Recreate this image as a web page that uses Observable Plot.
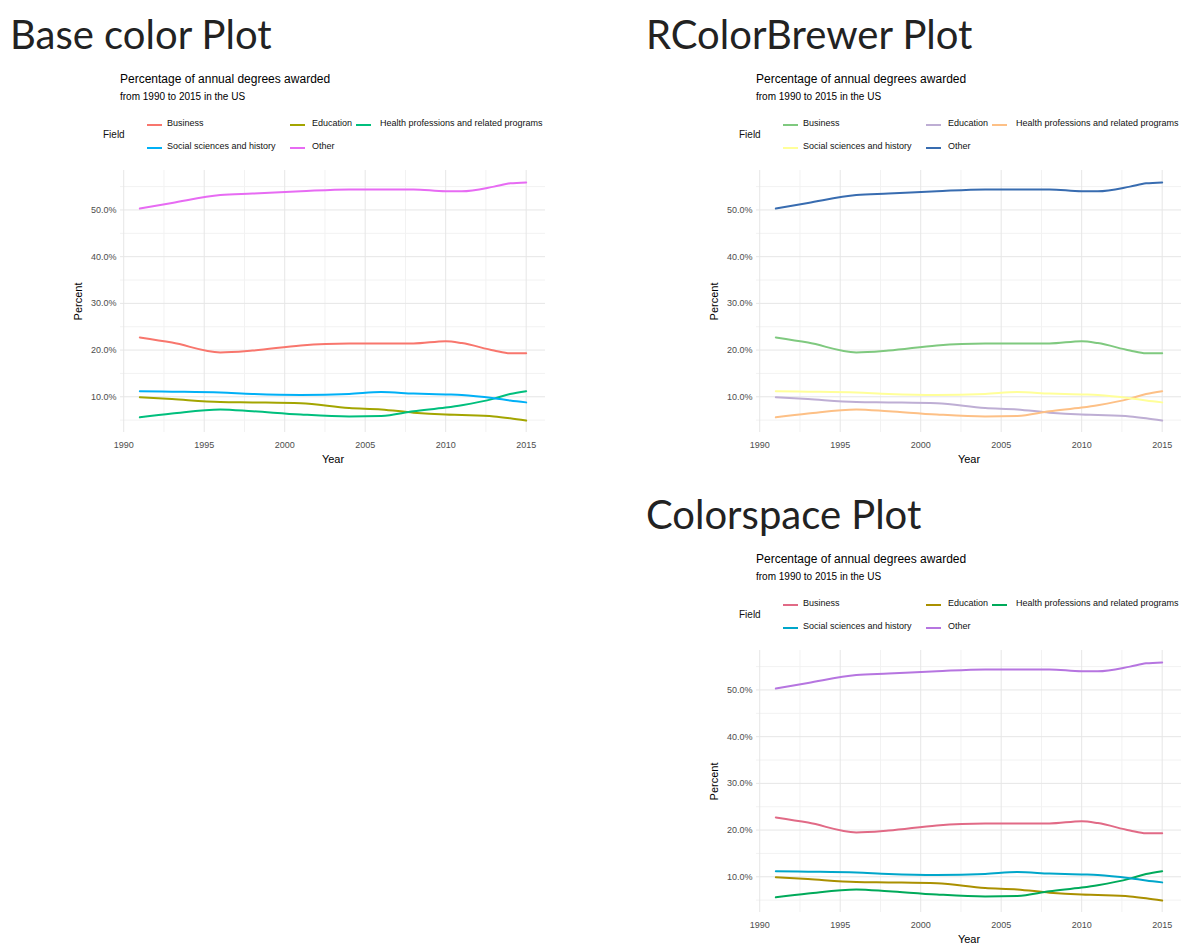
<!DOCTYPE html>
<html><head><meta charset="utf-8">
<script src="https://cdn.jsdelivr.net/npm/d3@7"></script>
<script src="https://cdn.jsdelivr.net/npm/@observablehq/plot@0.6"></script>
<style>
body{margin:0;background:#fff;width:1201px;height:952px;position:relative;overflow:hidden;font-family:"Liberation Sans",Arial,sans-serif}
.panel{position:absolute;width:560px;height:470px}
.head{position:absolute;left:10px;top:14px;font-family:Lato,sans-serif;font-size:40px;color:#222;line-height:1;white-space:nowrap}
.t{position:absolute;left:120px;top:71px;font-size:12px;color:#000}
.s{position:absolute;left:120px;top:91px;font-size:10px;color:#000}
.lg{position:absolute;font-size:9px;color:#111;white-space:nowrap}
.key{position:absolute;width:15px;height:2px}
.chart{position:absolute;left:70px;top:165px}
</style></head><body>
<script>
const fields = ["Business","Education","Health professions and related programs","Social sciences and history","Other"];
const years = [1991,1993,1996,1998,2001,2004,2006,2008,2010,2011,2013,2014,2015];
const business  = [22.7,21.6,19.5,19.9,21.0,21.4,21.4,21.4,21.9,21.5,19.9,19.3,19.3];
const education = [9.9,9.5,8.9,8.8,8.6,7.6,7.3,6.6,6.2,6.1,5.8,5.4,4.9];
const health    = [5.6,6.4,7.3,6.9,6.2,5.8,5.9,6.9,7.7,8.2,9.6,10.6,11.2];
const social    = [11.2,11.1,10.9,10.6,10.4,10.6,11.0,10.7,10.5,10.4,9.7,9.2,8.8];
const other     = [50.3,51.5,53.2,53.5,54.0,54.4,54.4,54.4,54.0,54.0,55.0,55.7,55.9];
const seriesValues = [business,education,health,social,other];
const palettes = [
  ["#F8766D","#A3A500","#00BF7D","#00B0F6","#E76BF3"],
  ["#7FC97F","#BEAED4","#FDC086","#FFFF99","#386CB0"],
  ["#E16A86","#AA9000","#00AA5A","#00A6CA","#B675E0"]
];
const headings = ["Base color Plot","RColorBrewer Plot","Colorspace Plot"];
const offsets = [[0,0],[636,0],[636,480]];

const data = [];
fields.forEach((f,i)=>years.forEach((y,j)=>data.push({field:f,year:y,pct:seriesValues[i][j]})));

// legend layout: [key x, text x, y]
const legendPos = [[147,167,124],[290,312,124],[356,380,124],[147,167,147],[290,312,147]];

headings.forEach((h,k)=>{
  const p = document.createElement("div");
  p.className="panel"; p.style.left=offsets[k][0]+"px"; p.style.top=offsets[k][1]+"px";
  p.innerHTML = `<div class="head">${h}</div><div class="t" style="top:72px">Percentage of annual degrees awarded</div><div class="s">from 1990 to 2015 in the US</div><div class="lg" style="left:103px;top:129px;font-size:10px">Field</div>`;
  fields.forEach((f,n)=>{
    const [kx,tx,ty]=legendPos[n];
    p.innerHTML += `<div class="key" style="left:${kx}px;top:${ty}px;background:${palettes[k][n]}"></div><div class="lg" style="left:${tx}px;top:${ty-6}px">${f}</div>`;
  });
  const chart = Plot.plot({
    width:475, height:302, marginLeft:50, marginRight:0, marginTop:5, marginBottom:35,
    style:{fontFamily:"Liberation Sans, Arial, sans-serif", fontSize:"9px", color:"#4d4d4d", background:"#fff"},
    x:{domain:[1989.8,2016.2], ticks:[1990,1995,2000,2005,2010,2015], tickFormat:d=>String(d), tickSize:0, label:"Year", labelAnchor:"center", labelArrow:"none", labelOffset:30},
    y:{domain:[2.35,58.45], ticks:[10,20,30,40,50], tickFormat:d=>d.toFixed(1)+"%", tickSize:0, tickPadding:4, label:"Percent", labelAnchor:"center", labelArrow:"none", labelOffset:46},
    color:{domain:fields, range:palettes[k]},
    marks:[
      Plot.ruleY([5,15,25,35,45,55],{stroke:"#f2f2f2"}),
      Plot.ruleX([1992.5,1997.5,2002.5,2007.5,2012.5],{stroke:"#f2f2f2"}),
      Plot.ruleY([10,20,30,40,50],{stroke:"#e6e6e6"}),
      Plot.ruleX([1990,1995,2000,2005,2010,2015],{stroke:"#e6e6e6"}),
      Plot.line(data,{x:"year",y:"pct",z:"field",stroke:"field",strokeWidth:2,curve:"monotone-x"})
    ]
  });
  chart.classList.add("chart");
  chart.style.overflow="visible";
  d3.select(chart).selectAll("g[aria-label='x-axis label'] text, g[aria-label='y-axis label'] text").attr("fill","#000").style("font-size","11px");
  p.appendChild(chart);
  document.body.appendChild(p);
});
</script>
</body></html>
